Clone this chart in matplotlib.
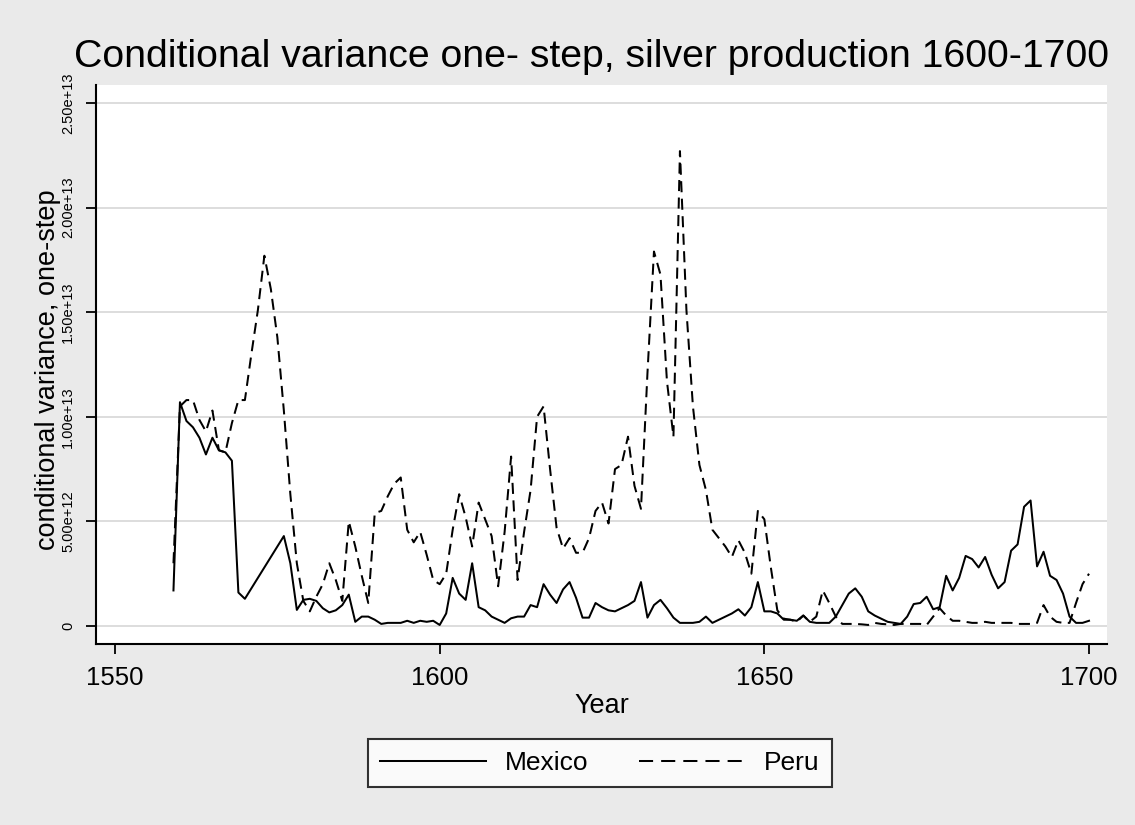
import numpy as np
import matplotlib
matplotlib.use("Agg")
import matplotlib.pyplot as plt
from matplotlib.lines import Line2D

# conditional variance, one-step (units of 1e12), yearly 1559-1700
years = list(range(1559, 1701))

mexico = [
    1.7, 10.7, 9.8, 9.5, 9.0, 8.2, 9.0, 8.4, 8.3, 7.9,          # 1559-1568
    1.6, 1.3, 1.8, 2.3, 2.8, 3.3, 3.8, 4.3, 3.0, 0.77,          # 1569-1578
    1.25, 1.3, 1.2, 0.85, 0.65, 0.75, 1.0, 1.5, 0.2, 0.45,      # 1579-1588
    0.45, 0.3, 0.1, 0.15, 0.15, 0.15, 0.25, 0.15, 0.25, 0.2,    # 1589-1598
    0.25, 0.05, 0.6, 2.3, 1.55, 1.25, 3.0, 0.9, 0.75, 0.45,     # 1599-1608
    0.3, 0.15, 0.37, 0.45, 0.45, 1.0, 0.9, 2.0, 1.5, 1.1,       # 1609-1618
    1.75, 2.1, 1.35, 0.4, 0.4, 1.1, 0.9, 0.75, 0.7, 0.85,       # 1619-1628
    1.0, 1.2, 2.1, 0.4, 1.0, 1.25, 0.85, 0.4, 0.15, 0.15,       # 1629-1638
    0.15, 0.2, 0.45, 0.15, 0.3, 0.45, 0.6, 0.8, 0.5, 0.9,       # 1639-1648
    2.1, 0.7, 0.7, 0.6, 0.3, 0.3, 0.25, 0.5, 0.2, 0.15,         # 1649-1658
    0.15, 0.15, 0.45, 1.0, 1.55, 1.8, 1.4, 0.7, 0.5, 0.35,      # 1659-1668
    0.2, 0.15, 0.1, 0.45, 1.05, 1.1, 1.4, 0.8, 0.9, 2.4,        # 1669-1678
    1.7, 2.3, 3.35, 3.2, 2.8, 3.3, 2.45, 1.8, 2.1, 3.6,         # 1679-1688
    3.9, 5.7, 6.0, 2.85, 3.55, 2.4, 2.2, 1.55, 0.45, 0.15,      # 1689-1698
    0.15, 0.25,                                                 # 1699-1700
]

peru = [
    3.0, 10.5, 10.8, 10.8, 9.85, 9.3, 10.3, 8.4, 8.3, 9.7,      # 1559-1568
    10.8, 10.8, 13.0, 15.1, 17.7, 16.1, 13.8, 10.3, 6.3, 3.0,   # 1569-1578
    1.2, 0.7, 1.4, 2.0, 3.0, 2.2, 1.2, 5.0, 3.8, 2.4,           # 1579-1588
    1.1, 5.4, 5.5, 6.2, 6.8, 7.1, 4.6, 4.0, 4.5, 3.4,           # 1589-1598
    2.2, 2.0, 2.5, 4.6, 6.3, 5.2, 3.8, 5.9, 5.1, 4.3,           # 1599-1608
    1.9, 4.5, 8.1, 2.2, 4.5, 6.5, 10.0, 10.5, 7.5, 4.7,         # 1609-1618
    3.7, 4.2, 3.5, 3.5, 4.2, 5.5, 5.9, 4.9, 7.5, 7.7,           # 1619-1628
    9.05, 6.7, 5.6, 12.1, 17.9, 16.8, 11.7, 9.05, 22.7, 15.1,   # 1629-1638
    10.5, 7.7, 6.5, 4.6, 4.2, 3.8, 3.3, 4.1, 3.5, 2.5,          # 1639-1648
    5.5, 5.1, 2.8, 0.75, 0.35, 0.3, 0.2, 0.5, 0.2, 0.45,        # 1649-1658
    1.7, 1.1, 0.45, 0.1, 0.1, 0.1, 0.08, 0.05, 0.15, 0.1,       # 1659-1668
    0.08, 0.05, 0.1, 0.1, 0.1, 0.1, 0.05, 0.45, 0.85, 0.5,      # 1669-1678
    0.25, 0.25, 0.2, 0.15, 0.15, 0.2, 0.15, 0.15, 0.15, 0.15,   # 1679-1688
    0.1, 0.1, 0.1, 0.15, 1.0, 0.45, 0.2, 0.15, 0.15, 1.1,       # 1689-1698
    2.0, 2.5,                                                   # 1699-1700
]

ytick_vals = [0, 5e12, 1e13, 1.5e13, 2e13, 2.5e13]
ytick_labels = ["0", "5.00e+12", "1.00e+13", "1.50e+13", "2.00e+13", "2.50e+13"]
xtick_vals = [1550, 1600, 1650, 1700]

mexico = np.array(mexico) * 1e12
peru = np.array(peru) * 1e12

plt.rcParams["font.family"] = ["Liberation Sans", "DejaVu Sans"]

W, H = 1135, 825
fig = plt.figure(figsize=(W / 100, H / 100), dpi=100, facecolor="#eaeaea")
ax = fig.add_axes([96 / W, (H - 644) / H, (1107 - 96) / W, (644 - 85) / H])
ax.set_facecolor("white")

lw = 1.45
ax.plot(years, mexico, color="black", lw=lw)
ax.plot(years, peru, color="black", lw=lw, linestyle=(0, (5.5, 3.2)))

ax.set_xlim(1547.07, 1702.77)
ax.set_ylim(-0.86e12, 25.86e12)

ax.set_xticks(xtick_vals)
ax.set_xticklabels([str(v) for v in xtick_vals])
ax.set_yticks(ytick_vals)
ax.set_yticklabels(ytick_labels, rotation=90, va="center")

ax.tick_params(axis="x", labelsize=18.5, length=7, width=1.3, pad=8.5, color="black")
ax.tick_params(axis="y", labelsize=10.5, length=7, width=1.3, pad=8, color="black")

ax.grid(axis="y", color="#dadada", lw=1.3)
ax.set_axisbelow(True)

for s in ["top", "right"]:
    ax.spines[s].set_visible(False)
for s in ["left", "bottom"]:
    ax.spines[s].set_linewidth(1.5)
    ax.spines[s].set_color("black")

fig.text(591.5 / W, 1 - 67 / H, "Conditional variance one- step, silver production 1600-1700",
         ha="center", va="baseline", fontsize=28.3)
fig.text(48 / W, 1 - 370 / H, "conditional variance, one-step",
         rotation=90, ha="center", va="center", fontsize=19.5)
fig.text(601.5 / W, 1 - 706 / H, "Year", ha="center", va="center", fontsize=19.5)

handles = [
    Line2D([], [], color="black", lw=lw),
    Line2D([], [], color="black", lw=lw, linestyle=(0, (7.0, 4.0))),
]
leg = fig.legend(handles, ["Mexico", "Peru"], loc="center",
                 bbox_to_anchor=(600 / W, 1 - 763 / H), ncol=2, fontsize=19,
                 frameon=True, fancybox=False, handlelength=4.0,
                 handletextpad=0.75, columnspacing=1.9, borderpad=0.45,
                 borderaxespad=0)
leg.get_frame().set_edgecolor("black")
leg.get_frame().set_linewidth(1.5)
leg.get_frame().set_facecolor("white")

fig.savefig("out.png", dpi=100, facecolor=fig.get_facecolor())
